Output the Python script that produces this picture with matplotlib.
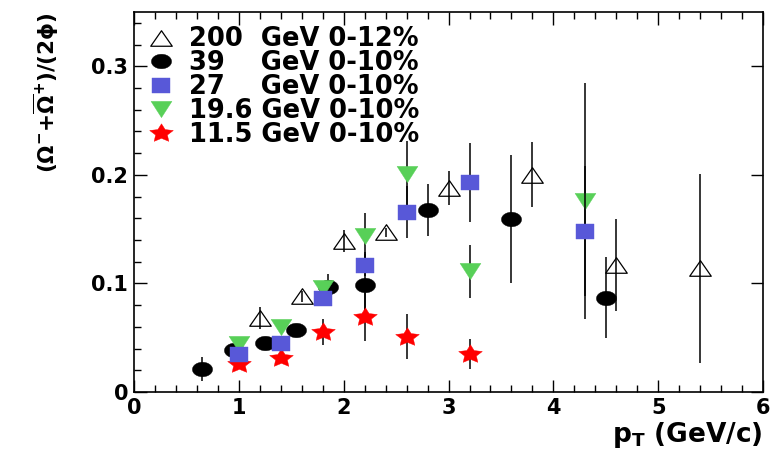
import matplotlib
matplotlib.use("Agg")
import matplotlib.pyplot as plt
from matplotlib.path import Path
import numpy as np

# Omega / (2 phi) ratio vs pT
pt_200 = [1.2, 1.6, 2.0, 2.4, 3.0, 3.8, 4.6, 5.4]
r_200 = [0.068, 0.088, 0.139, 0.147, 0.188, 0.200, 0.117, 0.114]
e_200 = [0.010, 0.005, 0.010, 0.004, 0.016, 0.030, 0.042, 0.087]

pt_39 = [0.65, 0.95, 1.25, 1.55, 1.85, 2.2, 2.8, 3.6, 4.5]
r_39 = [0.021, 0.039, 0.045, 0.057, 0.097, 0.099, 0.168, 0.159, 0.087]
e_39 = [0.011, 0.004, 0.004, 0.004, 0.012, 0.030, 0.024, 0.059, 0.037]

pt_27 = [1.0, 1.4, 1.8, 2.2, 2.6, 3.2, 4.3]
r_27 = [0.035, 0.045, 0.087, 0.117, 0.166, 0.193, 0.148]
e_27 = [0.003, 0.004, 0.006, 0.010, 0.024, 0.036, 0.060]

pt_19 = [1.0, 1.4, 1.8, 2.2, 2.6, 3.2, 4.3]
r_19 = [0.044, 0.060, 0.096, 0.144, 0.201, 0.111, 0.176]
e_19 = [0.003, 0.004, 0.006, 0.021, 0.030, 0.024, 0.109]

pt_11 = [1.0, 1.4, 1.8, 2.2, 2.6, 3.2]
r_11 = [0.026, 0.031, 0.055, 0.069, 0.051, 0.035]
e_11 = [0.004, 0.004, 0.012, 0.022, 0.021, 0.014]

labels = ["200  GeV 0-12%", "39    GeV 0-10%", "27    GeV 0-10%",
          "19.6 GeV 0-10%", "11.5 GeV 0-10%"]


# markers in the original are a bit wider than tall
def squash(verts, sy):
    v = np.array(verts, dtype=float)
    v[:, 1] *= sy
    return Path(np.vstack([v, v[:1]]), closed=True)

t = np.linspace(0, 2 * np.pi, 60, endpoint=False)
m_circle = squash(np.c_[np.cos(t), np.sin(t)], 0.72)
m_square = squash([[-1, -1], [1, -1], [1, 1], [-1, 1]], 0.8)
m_up = squash([[0, 1], [-1, -1], [1, -1]], 0.72)
m_down = squash([[0, -1], [-1, 1], [1, 1]], 0.78)
a = np.pi / 2 + np.arange(10) * np.pi / 5
rad = np.where(np.arange(10) % 2 == 0, 1.0, 0.5)
m_star = squash(np.c_[rad * np.cos(a), rad * np.sin(a)], 0.78)

plt.rcParams["font.family"] = "DejaVu Sans"
plt.rcParams["font.weight"] = "bold"
plt.rcParams["axes.labelweight"] = "bold"
plt.rcParams["mathtext.fontset"] = "dejavusans"
plt.rcParams["mathtext.default"] = "bf"

fig = plt.figure(figsize=(7.74, 4.55), dpi=100)
ax = fig.add_axes([0.173, 0.1385, 0.813, 0.835])

series = [
    (pt_200, r_200, e_200, m_up, "none", "black", 15.5, 3),
    (pt_39, r_39, e_39, m_circle, "black", "black", 14.5, 4),
    (pt_27, r_27, e_27, m_square, "#5858d8", "#5858d8", 13.5, 7),
    (pt_19, r_19, e_19, m_down, "#58d058", "#58d058", 15.0, 6),
    (pt_11, r_11, e_11, m_star, "#ff0000", "#ff0000", 17.0, 5),
]

handles = []
for (x, y, e, mk, fc, ec, ms, z) in series:
    ax.errorbar(x, y, yerr=e, fmt="none", ecolor="black",
                elinewidth=1.1, capsize=0, zorder=z)
    p, = ax.plot(x, y, linestyle="none", marker=mk, markersize=ms,
                 markerfacecolor=fc, markeredgecolor=ec,
                 markeredgewidth=0.9 if fc == "none" else 0.3, zorder=z + 0.5)
    handles.append(p)

ax.set_xlim(0, 6)
ax.set_ylim(0, 0.35)
ax.set_xticks([0, 1, 2, 3, 4, 5, 6])
ax.set_yticks([0, 0.1, 0.2, 0.3])
ax.set_yticklabels(["0", "0.1", "0.2", "0.3"])
ax.set_xticks(np.arange(0, 6.01, 0.2), minor=True)
ax.set_yticks(np.arange(0, 0.351, 0.02), minor=True)
ax.tick_params(which="both", direction="in", top=True, right=True,
               labelsize=15, width=1.0, pad=4)
ax.tick_params(which="major", length=9)
ax.tick_params(which="minor", length=5, right=False)
for s in ax.spines.values():
    s.set_linewidth(1.2)

ax.set_xlabel(r"p$_\mathbf{T}$ (GeV/c)", fontsize=19, fontweight="bold",
              loc="right", labelpad=2)
ax.set_ylabel(r"$(\mathbf{\Omega}^{-}\mathbf{+}\overline{\mathbf{\Omega}}^{+})/(2\phi)$",
              fontsize=15.5, fontweight="bold", loc="top", labelpad=22)

ax.legend(handles, labels, loc="upper left", bbox_to_anchor=(0.02, 0.962),
          frameon=False, fontsize=18.5, handlelength=1.15, handletextpad=0.5,
          labelspacing=-0.08, borderpad=0, borderaxespad=0, numpoints=1)

fig.savefig("out.png", dpi=100)
